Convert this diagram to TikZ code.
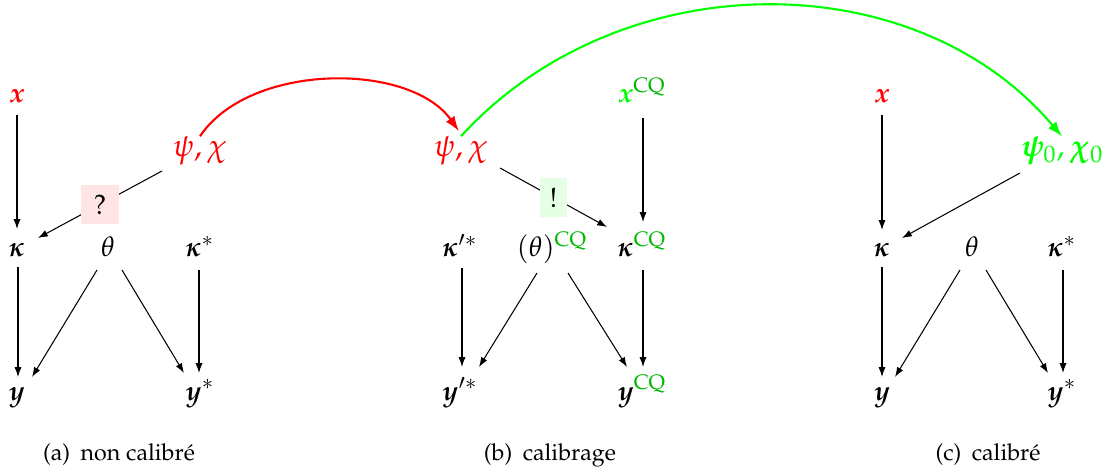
\documentclass[tikz,border=0pt]{standalone}
\usepackage[T1]{fontenc}
\usepackage{mathpazo}
\usepackage{amsmath}
\usepackage{bm}
\usetikzlibrary{arrows.meta,calc}
\definecolor{cqgreen}{RGB}{0,185,0}
\newcommand{\CQsup}{\textcolor{cqgreen}{\mathrm{CQ}}}
\begin{document}
\begin{tikzpicture}[x=0.43pt,y=-0.43pt,
  lbl/.style={anchor=base,inner sep=0pt,font=\large},
  big/.style={lbl,font=\fontsize{13.5}{16}\selectfont},
  arr/.style={-{Latex[length=4.2pt,width=3pt]},line width=0.45pt},
  flow/.style={-{Latex[length=6.5pt,width=4.5pt]},line width=0.9pt},
  qbox/.style={fill=red!10,minimum width=16pt,minimum height=17pt,inner sep=0pt,font=\large},
  ebox/.style={fill=green!10,minimum width=12pt,minimum height=17pt,inner sep=0pt,font=\large},
  captext/.style={anchor=base,inner sep=0pt}
]
\useasboundingbox (0,0) rectangle (1103,470);

% ---------- (a) ----------
\node[lbl,text=red] (ax) at (17,103) {$\bm{x}$};
\node[big,text=red] (apsi) at (200,157) {$\psi,\chi$};
\node[lbl] (ak) at (17,257) {$\bm{\kappa}$};
\node[lbl] (ath) at (108,257) {$\theta$};
\node[lbl] (aks) at (200,257) {$\bm{\kappa}^*$};
\node[lbl] (ay) at (17,400) {$\bm{y}$};
\node[lbl] (ays) at (200,400) {$\bm{y}^*$};
\node[captext] (capa) at (119,460) {(a)\hspace{0.45em}non calibr\'e};

\draw[arr] ($(ax.base)+(0,12)$) -- ($(ak.base)+(0,-28)$);
\draw[arr] ($(apsi.base)+(-38,14)$) -- ($(ak.base)+(21,-19)$) node[qbox,pos=0.5] (qa) {?};
\draw[arr] ($(ak.base)+(1,10)$) -- ($(ay.base)+(1,-23)$);
\draw[arr] ($(ath.base)+(-11,13)$) -- ($(ay.base)+(15,-23)$);
\draw[arr] ($(ath.base)+(14,13)$) -- ($(ays.base)+(-16,-27)$);
\draw[arr] ($(aks.base)+(-1,13)$) -- ($(ays.base)+(-1,-27)$);

% ---------- (b) ----------
\node[big,text=red] (bpsi) at (461,157) {$\psi,\chi$};
\node[lbl] (bx) at (642,103) {$\textcolor{green}{\bm{x}}^{\CQsup}$};
\node[lbl] (bks) at (460,257) {$\bm{\kappa}'^*$};
\node[lbl] (bth) at (552,257) {$(\theta)^{\CQsup}$};
\node[lbl] (bk) at (642,257) {$\bm{\kappa}^{\CQsup}$};
\node[lbl] (bys) at (460,400) {$\bm{y}'^*$};
\node[lbl] (by) at (642,400) {$\bm{y}^{\CQsup}$};
\node[captext] (capb) at (550,460) {(b)\hspace{0.45em}calibrage};

\draw[arr] ($(bpsi.base)+(39,11)$) -- ($(bk.base)+(-35,-30)$) node[ebox,pos=0.5] (eb) {!};
\draw[arr] ($(bx.base)+(1,15)$) -- ($(bk.base)+(1,-35)$);
\draw[arr] ($(bks.base)+(2,11)$) -- ($(bys.base)+(2,-33)$);
\draw[arr] ($(bth.base)+(-15,16)$) -- ($(bys.base)+(19,-33)$);
\draw[arr] ($(bth.base)+(16,16)$) -- ($(by.base)+(-15,-33)$);
\draw[arr] ($(bk.base)+(1,13)$) -- ($(by.base)+(1,-33)$);

% ---------- (c) ----------
\node[lbl,text=red] (cx) at (882,103) {$\bm{x}$};
\node[big,text=green] (cpsi) at (1062,157) {$\bm{\psi}_0,\bm{\chi}_0$};
\node[lbl] (ck) at (882,257) {$\bm{\kappa}$};
\node[lbl] (cth) at (972,257) {$\theta$};
\node[lbl] (cks) at (1062,257) {$\bm{\kappa}^*$};
\node[lbl] (cy) at (882,400) {$\bm{y}$};
\node[lbl] (cys) at (1062,400) {$\bm{y}^*$};
\node[captext] (capc) at (988,460) {(c)\hspace{0.45em}calibr\'e};

\draw[arr] ($(cx.base)+(0,12)$) -- ($(ck.base)+(0,-27)$);
\draw[arr] ($(cpsi.base)+(-42,16)$) -- ($(ck.base)+(20,-19)$);
\draw[arr] ($(ck.base)+(0,10)$) -- ($(cy.base)+(0,-23)$);
\draw[arr] ($(cth.base)+(-12,13)$) -- ($(cy.base)+(13,-23)$);
\draw[arr] ($(cth.base)+(14,13)$) -- ($(cys.base)+(-14,-27)$);
\draw[arr] ($(cks.base)+(1,13)$) -- ($(cys.base)+(1,-27)$);

% ---------- flows ----------
\draw[flow,red] (apsi.north) .. controls (250,62) and (410,62) .. ($(bpsi.north)+(-2,-5)$);
\draw[flow,green] (bpsi.north) .. controls (620,-38) and (915,-38) .. (cpsi.north);
\end{tikzpicture}
\end{document}
